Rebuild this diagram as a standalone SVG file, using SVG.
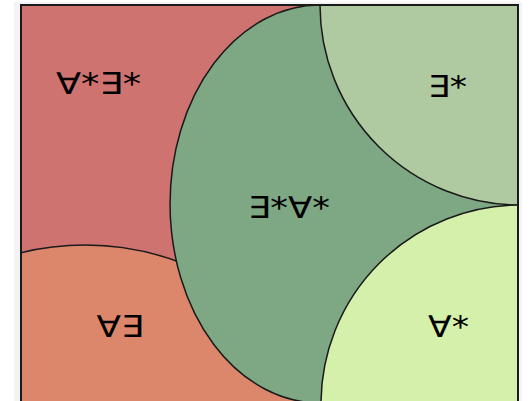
<svg xmlns="http://www.w3.org/2000/svg" width="531" height="401" viewBox="0 0 531 401">
<style>
.r{stroke:#1a1a1a;stroke-width:1.5}
.t{font-family:"DejaVu Sans",sans-serif;font-size:30px;fill:#000;text-anchor:middle}
</style>
<defs>
<clipPath id="box"><rect x="21" y="5" width="497" height="400"/></clipPath>
</defs>
<rect x="0" y="0" width="531" height="401" fill="#ffffff"/>
<rect x="14" y="2" width="508" height="400" fill="#f3f3f3"/>
<g clip-path="url(#box)">
<g id="forall-exists-star"><rect x="21" y="5" width="497" height="400" fill="#cf7370"/><text class="t" x="98.5" y="94" textLength="85" lengthAdjust="spacingAndGlyphs">∀*∃*</text></g>
<g id="forall-exists"><circle class="r" cx="85" cy="515" r="270" fill="#dc876b"/><text class="t" x="120" y="337" textLength="47" lengthAdjust="spacingAndGlyphs">∀∃</text></g>
<g id="exists-forall-star"><path class="r" d="M320,5 A150,199 0 0,0 320,403 L530,403 L530,5 Z" fill="#7ea784"/><text class="t" x="289" y="218" textLength="82" lengthAdjust="spacingAndGlyphs">∃*∀*</text></g>
<g id="exists-star"><circle class="r" cx="520" cy="5" r="200" fill="#afcaa0"/><text class="t" x="447.5" y="97" textLength="39" lengthAdjust="spacingAndGlyphs">∃*</text></g>
<g id="forall-star"><circle class="r" cx="520" cy="404" r="199" fill="#d5f0ab"/><text class="t" x="448.5" y="337" textLength="41" lengthAdjust="spacingAndGlyphs">∀*</text></g>
</g>
<g id="connectors"></g>
<rect x="21" y="5" width="497" height="402" fill="none" stroke="#1a1a1a" stroke-width="2"/>
</svg>
